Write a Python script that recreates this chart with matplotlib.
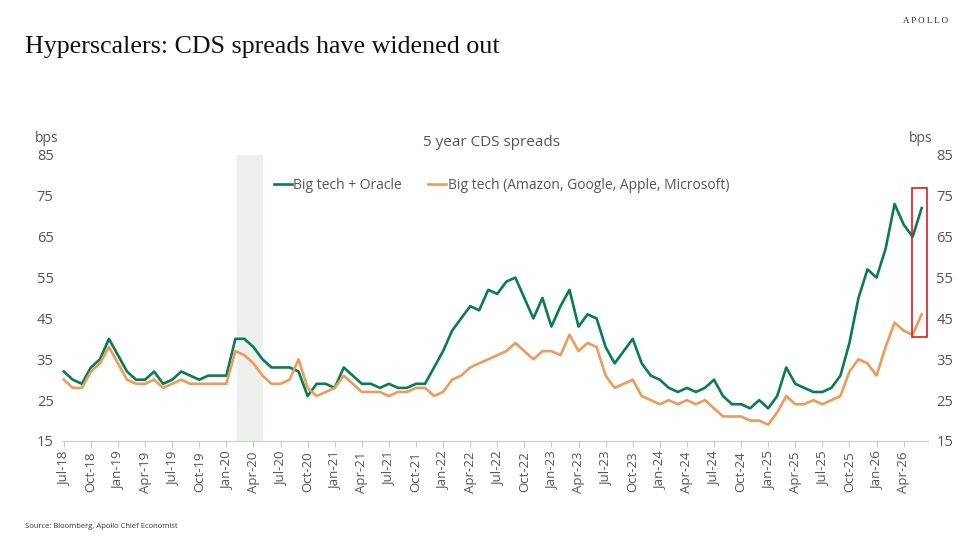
import matplotlib
matplotlib.use("Agg")
import matplotlib.pyplot as plt
from matplotlib.patches import Rectangle
import numpy as np

start_year, start_month = 2018, 7
big_tech_oracle = [32,30,29,33,35,40,36,32,30,30,32,29,30,32,31,30,31,31,31,40,40,38,35,33,
                   33,33,32,26,29,29,28,33,31,29,29,28,29,28,28,29,29,33,37,42,45,48,47,52,
                   51,54,55,50,45,50,43,48,52,43,46,45,38,34,37,40,34,31,30,28,27,28,27,28,
                   30,26,24,24,23,25,23,26,33,29,28,27,27,28,31,39,50,57,55,62,73,68,65,72]
big_tech = [30,28,28,32,34,38,34,30,29,29,30,28,29,30,29,29,29,29,29,37,36,34,31,29,
            29,30,35,28,26,27,28,31,29,27,27,27,26,27,27,28,28,26,27,30,31,33,34,35,
            36,37,39,37,35,37,37,36,41,37,39,38,31,28,29,30,26,25,24,25,24,25,24,25,
            23,21,21,21,20,20,19,22,26,24,24,25,24,25,26,32,35,34,31,38,44,42,41,46]
series_names = ["Big tech + Oracle", "Big tech (Amazon, Google, Apple, Microsoft)"]
yticks = [15, 25, 35, 45, 55, 65, 75, 85]
recession = (19.2, 22.0)
highlight = (93.9, 95.6, 40.5, 77)

mon = ["Jan","Feb","Mar","Apr","May","Jun","Jul","Aug","Sep","Oct","Nov","Dec"]
def lab(i):
    m = start_month - 1 + i
    return f"{mon[m % 12]}-{(start_year + m // 12) % 100:02d}"

green = "#0b7a55"
orange = "#ec9b5c"
tc = "#555555"
fnt = "Open Sans"

fig = plt.figure(figsize=(9.75, 5.41), dpi=100)
ax = fig.add_axes([62/975, 100/541, 866/975, 286/541])
x = np.arange(len(big_tech_oracle))
ax.axvspan(*recession, color="#eef0ee", zorder=0)
ax.plot(x, big_tech_oracle, color=green, lw=1.9, label=series_names[0])
ax.plot(x, big_tech, color=orange, lw=1.9, label=series_names[1])
ax.add_patch(Rectangle((highlight[0], highlight[2]), highlight[1]-highlight[0],
                       highlight[3]-highlight[2], fill=False, ec="#d62020", lw=1.2, zorder=5))
ax.set_xlim(-0.2, 95.7)
ax.set_ylim(15, 85)
ax.set_yticks(yticks)
ticks = list(range(0, 96, 3))
ax.set_xticks(ticks)
ax.set_xticklabels([lab(i) for i in ticks], rotation=90, fontsize=9.5, color=tc, family=fnt)
ax.tick_params(axis="x", length=4, color="#cccccc")
ax.tick_params(axis="y", length=0, labelsize=10.5, labelcolor=tc, pad=6)
for l in ax.get_yticklabels(): l.set_family(fnt)
for s in ["top", "right", "left"]: ax.spines[s].set_visible(False)
ax.spines["bottom"].set_color("#cccccc")
ax2 = ax.twinx()
ax2.set_ylim(15, 85); ax2.set_yticks(yticks)
ax2.tick_params(axis="y", length=0, labelsize=10.5, labelcolor=tc, pad=6)
for l in ax2.get_yticklabels(): l.set_family(fnt)
for s in ax2.spines.values(): s.set_visible(False)

leg = ax.legend(loc="upper left", bbox_to_anchor=(0.23, 0.965), ncol=2, frameon=False,
                handlelength=1.3, handletextpad=0.1, columnspacing=1.9,
                prop={"family": fnt, "size": 10})
for t in leg.get_texts(): t.set_color(tc)

fig.text(25/975, 1-47/541, "Hyperscalers: CDS spreads have widened out", family="Liberation Serif",
         fontsize=18.7, va="center", color="#111111")
fig.text(948/975, 1-21/541, "A P O L L O", family="Liberation Serif", fontsize=6.5, ha="right",
         va="center", color="#222222")
fig.text(491/975, 1-142/541, "5 year CDS spreads", family=fnt, fontsize=11, ha="center",
         va="center", color=tc)
fig.text(47/975, 1-138/541, "bps", family=fnt, fontsize=10, ha="center", va="center", color=tc)
fig.text(921/975, 1-138/541, "bps", family=fnt, fontsize=10, ha="center", va="center", color=tc)
fig.text(25/975, 1-527/541, "Source: Bloomberg, Apollo Chief Economist", family=fnt, fontsize=5.5,
         va="center", color="#333333")
fig.savefig("out.png", dpi=100)
